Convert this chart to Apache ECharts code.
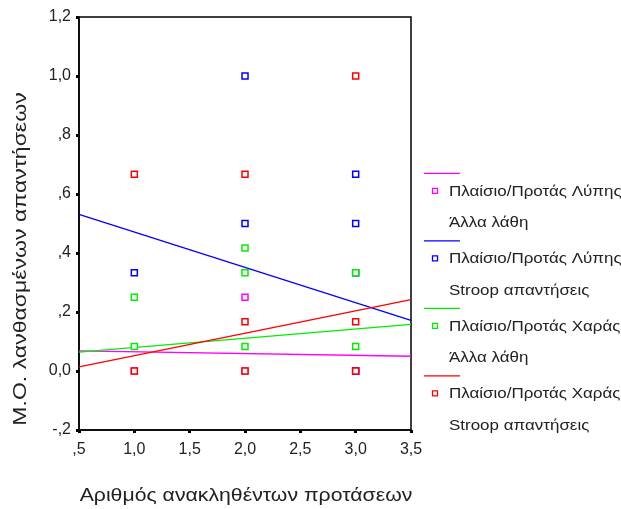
<!DOCTYPE html>
<html><head><meta charset="utf-8">
<script src="https://cdn.jsdelivr.net/npm/echarts@6/dist/echarts.min.js"></script>
<style>html,body{margin:0;padding:0;background:#fff}#c{width:621px;height:509px}</style>
</head><body><div id="c"></div>
<script>
// Data
const seriesNames = [
  ['Πλαίσιο/Προτάς Λύπης', 'Άλλα λάθη'],
  ['Πλαίσιο/Προτάς Λύπης', 'Stroop απαντήσεις'],
  ['Πλαίσιο/Προτάς Χαράς', 'Άλλα λάθη'],
  ['Πλαίσιο/Προτάς Χαράς', 'Stroop απαντήσεις']
];
const colors = ['#ff00ff', '#0000ff', '#00ee00', '#ff0000'];
const sadOther = [[1, 0], [2, 0.25], [2, 0], [3, 0]];
const sadStroop = [[1, 0.333], [2, 1.0], [2, 0.5], [3, 0.667], [3, 0.5], [3, 0.333], [3, 0.0]];
const happyOther = [[1, 0.25], [1, 0.083], [2, 0.417], [2, 0.333], [2, 0.083], [3, 0.333], [3, 0.083]];
const happyStroop = [[1, 0.667], [1, 0], [2, 0.667], [2, 0.167], [2, 0], [3, 1.0], [3, 0.167], [3, 0]];
const points = [sadOther, sadStroop, happyOther, happyStroop];
// Fit lines (endpoints at x = 0.5 and 3.5)
const fitX = [0.5, 3.5];
const fitSadOther = [0.068, 0.050];
const fitSadStroop = [0.531, 0.172];
const fitHappyOther = [0.064, 0.158];
const fitHappyStroop = [0.014, 0.242];
const fits = [fitSadOther, fitSadStroop, fitHappyOther, fitHappyStroop];
const xTicks = [0.5, 1.0, 1.5, 2.0, 2.5, 3.0, 3.5];
const yTicks = [-0.2, 0, 0.2, 0.4, 0.6, 0.8, 1.0, 1.2];
const xTitle = 'Αριθμός ανακληθέντων προτάσεων';
const yTitle = 'Μ.Ο. λανθασμένων απαντήσεων';

function fmt(v) {
  v = Math.round(v * 10) / 10;
  let s = v.toFixed(1).replace('.', ',');
  if (Math.abs(v) < 1 && v !== 0) s = s.replace('0,', ',');
  return s;
}

const FONT = 'Liberation Sans, Arial, sans-serif';
const chart = echarts.init(document.getElementById('c'), null, {renderer: 'canvas'});

const series = [];
for (let i = 0; i < 4; i++) {
  series.push({
    type: 'line', data: fitX.map((x, k) => [x, fits[i][k]]),
    showSymbol: false, symbol: 'none', silent: true,
    lineStyle: {color: colors[i], width: 1.3}, z: 2 + i
  });
}
for (let i = 0; i < 4; i++) {
  series.push({
    type: 'scatter', data: points[i], symbol: 'rect', symbolSize: 6,
    itemStyle: {color: '#fff', borderColor: colors[i], borderWidth: 1.5, opacity: 1}, z: 10 + i
  });
}

// legend via graphic
const graphic = [];
const legTop = 173.3;
const step = 67.5;
for (let i = 0; i < 4; i++) {
  const y = legTop + i * step;
  graphic.push({type: 'line', shape: {x1: 424, y1: y, x2: 460, y2: y}, style: {stroke: colors[i], lineWidth: 1.3}});
  graphic.push({type: 'rect', shape: {x: 432.5, y: y + 15, width: 5, height: 5}, style: {fill: '#fff', stroke: colors[i], lineWidth: 1.3}});
  graphic.push({type: 'text', x: 449, y: y + 18.5, scaleX: 1.17,
    style: {text: seriesNames[i][0], font: '14.5px ' + FONT, fill: '#222', align: 'left', verticalAlign: 'middle', textAlign: 'left', textVerticalAlign: 'middle'}});
  graphic.push({type: 'text', x: 449, y: y + 50, scaleX: 1.17,
    style: {text: seriesNames[i][1], font: '14.5px ' + FONT, fill: '#222', align: 'left', verticalAlign: 'middle', textAlign: 'left', textVerticalAlign: 'middle'}});
}
graphic.push({type: 'text', x: 246, y: 496, scaleX: 1.18,
  style: {text: xTitle, font: '18px ' + FONT, fill: '#222', align: 'center', verticalAlign: 'middle', textAlign: 'center', textVerticalAlign: 'middle'}});
graphic.push({type: 'text', x: 21, y: 259, rotation: Math.PI / 2, scaleX: 1.28,
  style: {text: yTitle, font: '18px ' + FONT, fill: '#222', align: 'center', verticalAlign: 'middle', textAlign: 'center', textVerticalAlign: 'middle'}});

chart.setOption({
  animation: false,
  backgroundColor: '#fff',
  grid: {left: 79, right: 210, top: 17, bottom: 79, show: true, borderColor: '#000', borderWidth: 1.5, containLabel: false},
  xAxis: {
    type: 'value', min: 0.5, max: 3.5, interval: 0.5,
    axisLine: {show: true, onZero: false, lineStyle: {color: '#000', width: 1.5}},
    axisTick: {show: true, length: 3, lineStyle: {color: '#000', width: 3}},
    axisLabel: {formatter: fmt, color: '#222', fontSize: 16, fontFamily: FONT, margin: 12},
    splitLine: {show: false}
  },
  yAxis: {
    type: 'value', min: -0.2, max: 1.2, interval: 0.2,
    axisLine: {show: true, onZero: false, lineStyle: {color: '#000', width: 1.5}},
    axisTick: {show: true, length: 3, lineStyle: {color: '#000', width: 3}},
    axisLabel: {formatter: fmt, color: '#222', fontSize: 16, fontFamily: FONT, margin: 8},
    splitLine: {show: false}
  },
  series: series,
  graphic: graphic
});
</script></body></html>
